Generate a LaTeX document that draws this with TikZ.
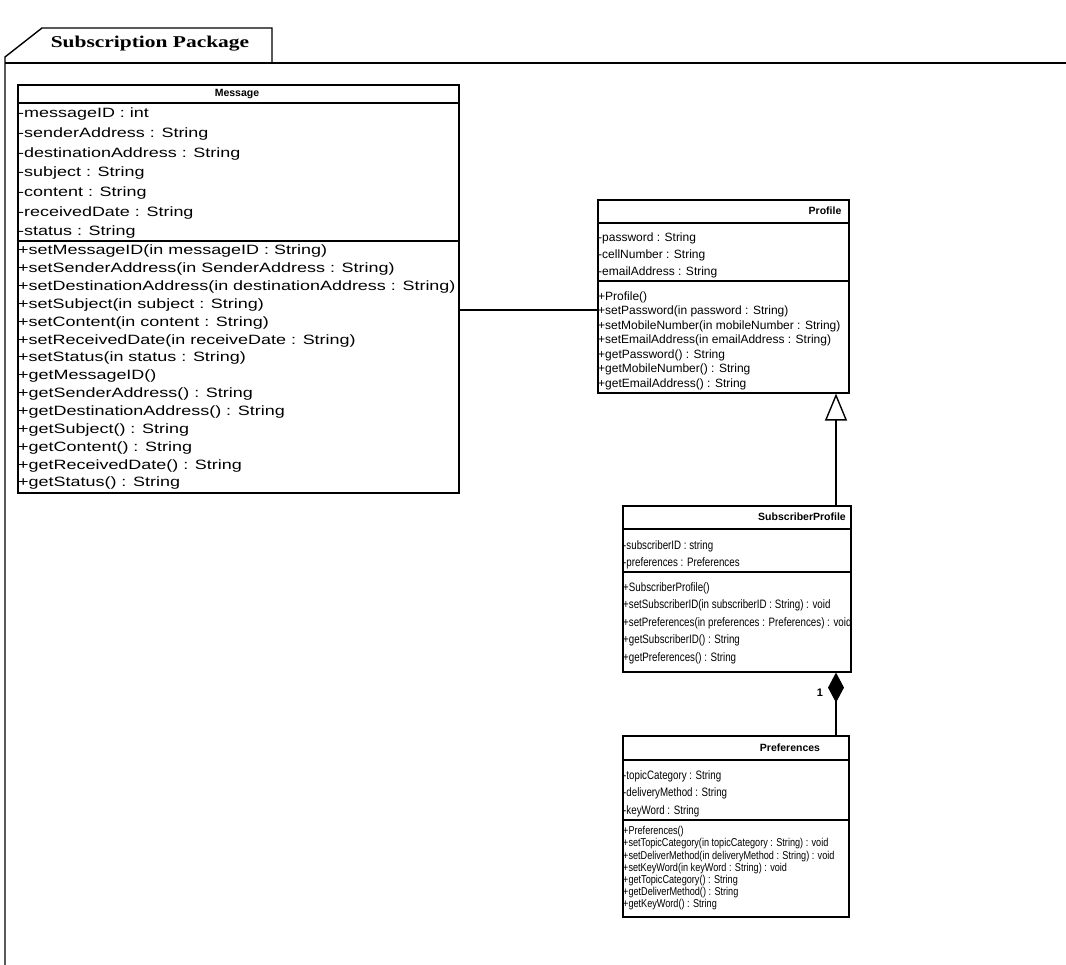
\documentclass[tikz,border=0pt]{standalone}
\usepackage{fontspec}
\setmainfont{Liberation Sans}
\newfontfamily\msgfont[FakeStretch=1.33]{Liberation Sans}
\newfontfamily\boxfont{Liberation Sans}
\newfontfamily\slimfont[FakeStretch=0.8]{Liberation Sans}
\newfontfamily\pkgfont[FakeStretch=1.3]{Liberation Serif}
\usetikzlibrary{arrows.meta}

\begin{document}
\begin{tikzpicture}[x=1pt,y=-1pt,
  frame/.style={draw, line width=1.6pt, inner sep=0pt, anchor=north west},
  rule/.style={line width=1.4pt},
  classname/.style={font=\boxfont\bfseries\fontsize{10.5}{12}\selectfont, inner sep=0pt},
  row/.style={anchor=base west, inner sep=0pt},
  msgrow/.style={row, font=\msgfont\fontsize{13.5}{16}\selectfont},
  profrow/.style={row, font=\boxfont\fontsize{12}{14}\selectfont},
  slimrow/.style={row, font=\slimfont\fontsize{12.2}{14}\selectfont},
  smallrow/.style={row, font=\slimfont\fontsize{11.4}{13}\selectfont},
  link/.style={line width=1.4pt}]
\useasboundingbox (0,0) rectangle (1066,965);

% package frame with its name tab
\draw[line width=1.4pt] (5,965) -- (5,57) -- (42,28) -- (272,28) -- (272,63);
\draw[line width=1.4pt] (5,63) -- (1066,63);
\node[font=\pkgfont\bfseries\fontsize{16.5}{18}\selectfont, inner sep=0pt] (pkg) at (150,44) {Subscription Package};

% ---------------- Message ----------------
\node[frame, minimum width=441pt, minimum height=408pt] (msg) at (17,84) {};
\node[classname] (msg-name) at (237,94) {Message};
\draw[rule] (17,103) -- (458,103);
\draw[rule] (17,241) -- (458,241);
\foreach \t [count=\i from 0] in {
  -messageID : int,
  -senderAddress : String,
  -destinationAddress : String,
  -subject : String,
  -content : String,
  -receivedDate : String,
  -status : String}
  \node[msgrow] (msg-a\i) at (18,{117.8+\i*19.7}) {\t};
\foreach \t [count=\i from 0] in {
  +setMessageID(in messageID : String),
  +setSenderAddress(in SenderAddress : String),
  +setDestinationAddress(in destinationAddress : String),
  +setSubject(in subject : String),
  +setContent(in content : String),
  +setReceivedDate(in receiveDate : String),
  +setStatus(in status : String),
  +getMessageID(),
  +getSenderAddress() : String,
  +getDestinationAddress() : String,
  +getSubject() : String,
  +getContent() : String,
  +getReceivedDate() : String,
  +getStatus() : String}
  \node[msgrow] (msg-o\i) at (18,{254.8+\i*17.85}) {\t};

% ---------------- Profile ----------------
\node[frame, minimum width=251pt, minimum height=193pt] (prof) at (597,199) {};
\node[classname] (prof-name) at (825,211) {Profile};
\draw[rule] (597,223) -- (848,223);
\draw[rule] (597,281) -- (848,281);
\foreach \t [count=\i from 0] in {
  -password : String,
  -cellNumber : String,
  -emailAddress : String}
  \node[profrow] (prof-a\i) at (598,{241.3+\i*17}) {\t};
\foreach \t [count=\i from 0] in {
  +Profile(),
  +setPassword(in password : String),
  +setMobileNumber(in mobileNumber : String),
  +setEmailAddress(in emailAddress : String),
  +getPassword() : String,
  +getMobileNumber() : String,
  +getEmailAddress() : String}
  \node[profrow] (prof-o\i) at (598,{300.3+\i*14.5}) {\t};

% ---------------- SubscriberProfile ----------------
\node[frame, minimum width=228pt, minimum height=166pt] (subp) at (622,505) {};
\node[classname] (subp-name) at (802,517) {SubscriberProfile};
\draw[rule] (622,529) -- (850,529);
\draw[rule] (622,572) -- (850,572);
\foreach \t [count=\i from 0] in {
  -subscriberID : string,
  -preferences : Preferences}
  \node[slimrow] (subp-a\i) at (623,{549.4+\i*17}) {\t};
\foreach \t [count=\i from 0] in {
  +SubscriberProfile(),
  +setSubscriberID(in subscriberID : String) : void,
  +setPreferences(in preferences : Preferences) : void,
  +getSubscriberID() : String,
  +getPreferences() : String}
  \node[slimrow] (subp-o\i) at (623,{591.4+\i*17.5}) {\t};

% ---------------- Preferences ----------------
\node[frame, minimum width=226pt, minimum height=181pt] (pref) at (622,735) {};
\node[classname] (pref-name) at (790,748) {Preferences};
\draw[rule] (622,760) -- (848,760);
\draw[rule] (622,820) -- (848,820);
\foreach \t [count=\i from 0] in {
  -topicCategory : String,
  -deliveryMethod : String,
  -keyWord : String}
  \node[slimrow] (pref-a\i) at (623,{779.4+\i*17.5}) {\t};
\foreach \t [count=\i from 0] in {
  +Preferences(),
  +setTopicCategory(in topicCategory : String) : void,
  +setDeliverMethod(in deliveryMethod : String) : void,
  +setKeyWord(in keyWord : String) : void,
  +getTopicCategory() : String,
  +getDeliverMethod() : String,
  +getKeyWord() : String}
  \node[smallrow] (pref-o\i) at (623,{834.6+\i*12.2}) {\t};

% ---------------- relationships ----------------
\coordinate (assoc) at (0,310);
\coordinate (stem) at (836,0);
\draw[link] (msg.east |- assoc) -- (prof.west |- assoc);
\draw[link, -{Triangle[open, length=27pt, width=22pt]}] (subp.north -| stem) -- (prof.south -| stem);
\draw[link, {Diamond[length=30pt, width=16pt]}-] (subp.south -| stem) -- (pref.north -| stem);
\node[font=\boxfont\bfseries\fontsize{11}{13}\selectfont, inner sep=0pt] (mult) at (820,693) {1};
\end{tikzpicture}
\end{document}
